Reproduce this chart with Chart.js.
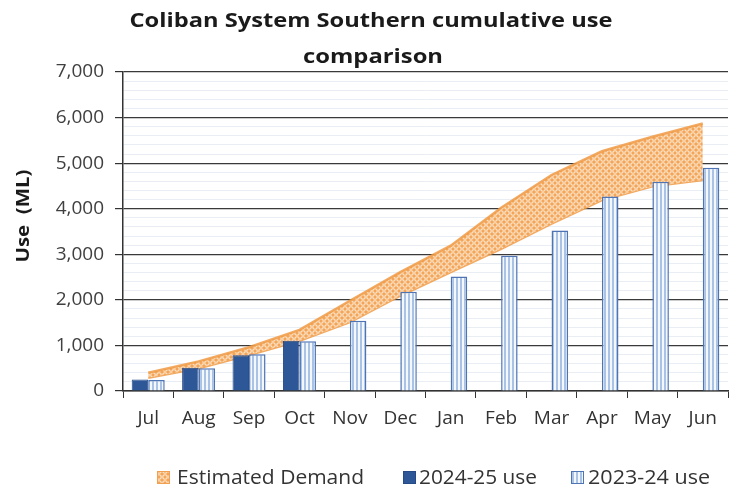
<!DOCTYPE html>
<html>
<head>
<meta charset="utf-8">
<script src="https://cdn.jsdelivr.net/npm/chart.js@4.4.1/dist/chart.umd.min.js"></script>
<style>
  html, body { margin: 0; padding: 0; background: #fff; }
  #wrap { width: 731px; height: 490px; }
</style>
</head>
<body>
<div id="wrap"><canvas id="useChart"></canvas></div>
<script>
const months = ["Jul", "Aug", "Sep", "Oct", "Nov", "Dec", "Jan", "Feb", "Mar", "Apr", "May", "Jun"];
const use2425 = [255, 510, 785, 1100, null, null, null, null, null, null, null, null];
const use2324 = [240, 500, 805, 1090, 1540, 2180, 2510, 2970, 3520, 4270, 4590, 4900];
const demandLow = [290, 500, 790, 1100, 1510, 2090, 2610, 3120, 3670, 4190, 4490, 4630];
const demandHigh = [400, 650, 960, 1340, 1980, 2610, 3190, 4020, 4740, 5260, 5580, 5870];
const titleLines = ["Coliban System Southern cumulative use", "comparison"];
const yTitle = "Use  (ML)";

// small canvas tiles for the patterned fills
function makeDemandPattern() {
  const c = document.createElement("canvas");
  c.width = 6; c.height = 6;
  const g = c.getContext("2d");
  g.fillStyle = "#f3a65a";
  g.fillRect(0, 0, 6, 6);
  g.strokeStyle = "#fde6cc";
  g.lineWidth = 1.1;
  g.beginPath();
  g.arc(3, 3, 2.2, 0, Math.PI * 2);
  g.stroke();
  return g.createPattern(c, "repeat");
}

function makeStripePattern() {
  const c = document.createElement("canvas");
  c.width = 4; c.height = 4;
  const g = c.getContext("2d");
  g.fillStyle = "#f4f8fd";
  g.fillRect(0, 0, 4, 4);
  g.fillStyle = "#a9c3e6";
  g.fillRect(0, 0, 2, 4);
  return g.createPattern(c, "repeat");
}

const demandFill = makeDemandPattern();
const stripeFill = makeStripePattern();

// the original text is wider than Open Sans, so stretch each piece to its width
function stretchedText(ctx, text, x, y, width) {
  const w = ctx.measureText(text).width;
  ctx.save();
  ctx.translate(x, y);
  ctx.scale(width / w, 1);
  ctx.fillText(text, 0, 0);
  ctx.restore();
}

const titlePlugin = {
  id: "textBits",
  afterDraw(chart) {
    const ctx = chart.ctx;
    ctx.save();
    ctx.fillStyle = "#1a1a1a";
    ctx.font = "bold 20px 'Open Sans'";
    ctx.textAlign = "center";
    ctx.textBaseline = "alphabetic";
    stretchedText(ctx, titleLines[0], 371, 27, 483);
    stretchedText(ctx, titleLines[1], 373, 63, 140);

    // y axis title
    ctx.font = "bold 18px 'Open Sans'";
    ctx.textBaseline = "middle";
    ctx.translate(24, 216);
    ctx.rotate(-Math.PI / 2);
    stretchedText(ctx, yTitle, 0, 0, 93);
    ctx.restore();
  }
};

const legendPlugin = {
  id: "bottomLegend",
  afterDraw(chart) {
    const ctx = chart.ctx;
    const ds = chart.data.datasets;
    const items = [
      { i: 1, box: 157, text: 177, w: 187, stroke: "#f0a050" },
      { i: 2, box: 403, text: 419, w: 118, stroke: "#254a85" },
      { i: 3, box: 571, text: 588, w: 122, stroke: "#4f74b3" }
    ];
    ctx.save();
    ctx.font = "20px 'Open Sans'";
    ctx.textBaseline = "middle";
    ctx.textAlign = "left";
    items.forEach(it => {
      ctx.fillStyle = ds[it.i].backgroundColor;
      ctx.fillRect(it.box, 471, 13, 13);
      ctx.strokeStyle = it.stroke;
      ctx.lineWidth = 1;
      ctx.strokeRect(it.box + 0.5, 471.5, 12, 12);
      ctx.fillStyle = "#333";
      stretchedText(ctx, ds[it.i].label, it.text, 478, it.w);
    });
    ctx.restore();
  }
};

new Chart(document.getElementById("useChart"), {
  type: "bar",
  data: {
    labels: months,
    datasets: [
      {
        type: "line",
        label: "demandLow",
        data: demandLow,
        borderColor: "rgba(240,155,70,0.85)",
        borderWidth: 2.5,
        pointRadius: 0,
        fill: false,
        order: 2
      },
      {
        type: "line",
        label: "Estimated Demand",
        data: demandHigh,
        borderColor: "rgba(240,155,70,0.85)",
        borderWidth: 2.5,
        pointRadius: 0,
        backgroundColor: demandFill,
        fill: 0,
        order: 1
      },
      {
        label: "2024-25 use",
        data: use2425,
        backgroundColor: "#2e5797",
        borderColor: "#254a85",
        borderWidth: 1,
        order: 0
      },
      {
        label: "2023-24 use",
        data: use2324,
        backgroundColor: stripeFill,
        borderColor: "#4f74b3",
        borderWidth: 1.5,
        order: 0
      }
    ]
  },
  options: {
    responsive: true,
    maintainAspectRatio: false,
    animation: false,
    layout: { padding: { top: 72, right: 3, left: 0, bottom: 0 } },
    datasets: {
      bar: { categoryPercentage: 0.655, barPercentage: 1, skipNull: false }
    },
    plugins: {
      title: { display: false },
      tooltip: { enabled: false },
      legend: { display: false }
    },
    scales: {
      x: {
        afterFit(scale) { scale.height = 99; },
        grid: {
          display: true,
          offset: true,
          drawOnChartArea: false,
          color: "#333",
          tickLength: 7
        },
        border: { color: "#333", width: 1.5 },
        ticks: {
          color: "#333",
          font: { family: "'Open Sans'", size: 19 },
          padding: 9,
          maxRotation: 0,
          autoSkip: false
        }
      },
      y: {
        min: 0,
        max: 7000,
        afterFit(scale) { scale.width = 123; },
        border: { color: "#333", width: 1.5 },
        grid: {
          color: c => (c.tick.value % 1000 === 0 ? "#3a3a3a" : "#e9eef5"),
          lineWidth: c => (c.tick.value % 1000 === 0 ? 1.2 : 1),
          tickColor: c => (c.tick.value % 1000 === 0 ? "#333" : "rgba(0,0,0,0)"),
          tickLength: 8
        },
        ticks: {
          stepSize: 200,
          autoSkip: false,
          color: "#404040",
          font: { family: "'Open Sans'", size: 19 },
          padding: 11,
          callback: v => (v % 1000 === 0 ? v.toLocaleString("en-US") : "")
        }
      }
    }
  },
  plugins: [titlePlugin, legendPlugin]
});
</script>
</body>
</html>
